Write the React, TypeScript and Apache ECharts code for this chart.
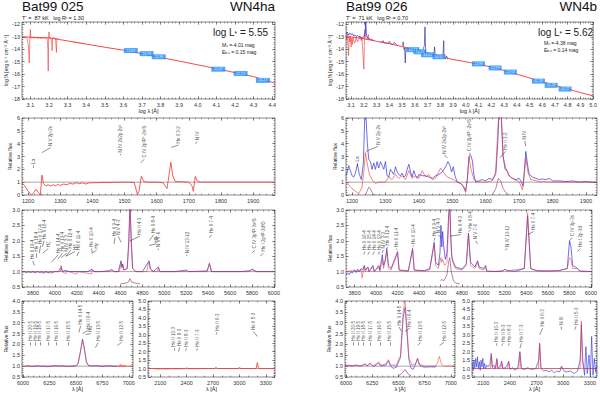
import React, { useEffect, useRef } from "react";
import * as echarts from "echarts";

// ---------------- tick labels ----------------
const TL_X = [3.1, 3.2, 3.3, 3.4, 3.5, 3.6, 3.7, 3.8, 3.9, 4.0, 4.1, 4.2, 4.3, 4.4];
const TR_X = [3.1, 3.2, 3.3, 3.4, 3.5, 3.6, 3.7, 3.8, 3.9, 4.0, 4.1, 4.2, 4.3, 4.4, 4.5, 4.6, 4.7, 4.8, 4.9, 5.0];
const TOP_Y = [-18, -17, -16, -15, -14, -13, -12];
const UV_X = [1200, 1300, 1400, 1500, 1600, 1700, 1800, 1900];
const UV_Y = [0, 1, 2, 3, 4, 5, 6];
const OPT_X = [3800, 4000, 4200, 4400, 4600, 4800, 5000, 5200, 5400, 5600, 5800, 6000];
const OPT_Y = [0.5, 1.0, 1.5, 2.0, 2.5, 3.0];
const HA_X = [6000, 6250, 6500, 6750, 7000];
const HA_Y = [0.5, 1.0, 1.5, 2.0, 2.5, 3.0, 3.5, 4.0];
const IR_X = [2100, 2400, 2700, 3000, 3300];
const IR_Y = [0.5, 1.0, 1.5, 2.0, 2.5, 3.0, 3.5, 4.0, 4.5, 5.0];

// ---------------- top-left: Bat99 025 SED ----------------
const tlModel = [[3.055, -13.0], [3.1, -13.02], [3.15, -13.05], [3.2, -13.08], [3.25, -13.2], [3.3, -13.32], [3.35, -13.45], [3.4, -13.58], [3.5, -13.83], [3.6, -14.07], [3.7, -14.35], [3.8, -14.65], [3.9, -14.95], [4.0, -15.25], [4.1, -15.55], [4.2, -15.88], [4.3, -16.2], [4.415, -16.72]];
const tlObs = [[3.055, -13.0], [3.06, -12.95], [3.065, -13.05], [3.07, -12.98], [3.075, -13.1], [3.08, -13.02], [3.085, -13.3], [3.09, -13.8], [3.094, -15.1], [3.097, -13.2], [3.1, -12.4], [3.103, -13.1], [3.11, -13.05], [3.12, -13.1], [3.13, -13.05], [3.14, -13.1], [3.15, -13.08], [3.16, -13.12], [3.17, -13.06], [3.18, -13.1], [3.19, -13.15], [3.194, -14.0], [3.196, -15.75], [3.198, -13.3], [3.2, -12.6], [3.203, -13.1], [3.21, -13.08], [3.215, -13.4], [3.217, -14.1], [3.219, -13.1], [3.225, -13.05], [3.235, -13.1], [3.24, -14.25], [3.243, -13.1], [3.25, -13.12]];
const tlOptObs = [[3.33, -13.4], [3.35, -13.45], [3.37, -13.5], [3.39, -13.55]];
const tlBoxes = [[3.64, -14.1, "14.62"], [3.725, -14.35, "14.75"], [3.79, -14.6, "14.84"], [4.11, -15.6, "15.01"], [4.23, -15.95, "15.13"], [4.35, -16.5, "15.24"]];

// ---------------- top-right: Bat99 026 SED ----------------
const trModel = [[3.06, -12.95], [3.1, -13.0], [3.2, -13.15], [3.3, -13.35], [3.4, -13.55], [3.5, -13.78], [3.6, -14.03], [3.7, -14.3], [3.8, -14.57], [3.9, -14.82], [4.0, -15.0], [4.1, -15.2], [4.2, -15.43], [4.3, -15.7], [4.4, -16.0], [4.5, -16.3], [4.6, -16.6], [4.7, -16.9], [4.8, -17.2], [4.9, -17.48], [5.0, -17.75]];
const trRedObs = [[3.06, -12.9], [3.065, -13.3], [3.07, -12.8], [3.075, -13.6], [3.08, -14.5], [3.085, -13.0], [3.09, -13.4], [3.095, -13.0], [3.1, -13.8], [3.105, -13.1], [3.11, -13.6], [3.115, -13.0], [3.12, -13.3], [3.13, -13.5], [3.14, -13.0], [3.15, -13.4], [3.16, -13.2], [3.17, -13.0], [3.18, -13.3], [3.185, -13.0], [3.2, -15.6], [3.205, -13.0], [3.21, -12.4], [3.215, -13.1], [3.22, -13.2], [3.23, -13.1], [3.235, -12.8], [3.24, -13.2], [3.25, -13.2]];
const trBlueUV = [[3.06, -12.75], [3.07, -12.6], [3.08, -12.85], [3.09, -12.7], [3.1, -12.8], [3.11, -12.75], [3.12, -12.9], [3.13, -12.85], [3.14, -12.95], [3.15, -12.9], [3.16, -13.0], [3.17, -12.95], [3.18, -13.05], [3.19, -13.1], [3.2, -13.0], [3.21, -12.6], [3.215, -11.8], [3.22, -12.9], [3.23, -13.1], [3.24, -13.15], [3.25, -13.2], [3.26, -13.2], [3.27, -13.25], [3.28, -13.3]];
const trBlueMid = [[3.33, -13.4], [3.345, -13.45], [3.35, -13.3], [3.36, -13.5], [3.375, -13.45], [3.39, -13.55], [3.4, -13.35], [3.41, -13.55], [3.43, -13.6], [3.44, -13.45], [3.46, -13.65]];
const trBlueOpt = [[3.5, -13.7], [3.51, -13.4], [3.515, -14.0], [3.52, -13.9], [3.525, -15.1], [3.53, -13.9], [3.54, -14.0], [3.55, -13.95], [3.56, -13.9], [3.57, -14.05], [3.58, -14.0], [3.59, -14.1], [3.6, -14.0], [3.61, -14.1], [3.62, -14.05], [3.63, -14.15], [3.64, -14.1], [3.65, -14.2], [3.66, -14.15], [3.675, -13.7], [3.68, -12.2], [3.685, -14.2], [3.69, -14.3], [3.7, -14.35], [3.71, -14.3], [3.72, -14.4], [3.73, -14.35], [3.74, -14.45], [3.75, -14.4], [3.755, -13.8], [3.76, -14.5], [3.77, -14.45], [3.78, -14.55], [3.79, -14.5], [3.8, -14.6], [3.81, -14.45], [3.82, -14.7], [3.827, -13.3], [3.83, -14.6], [3.84, -14.75], [3.85, -14.55], [3.86, -14.8]];
const trBoxes = [[3.585, -14.03, "14.27"], [3.64, -14.2, "14.41"], [3.7, -14.44, "14.52"], [3.79, -14.6, "14.60"], [4.1, -15.17, "14.85"], [4.23, -15.5, "14.93"], [4.35, -15.83, "15.02"], [4.57, -16.56, "15.30"], [4.67, -16.9, "15.38"], [4.78, -17.2, "15.47"]];

// ---------------- UV ----------------
const uvLFlux = [[1181, 0.95], [1190, 0.7], [1200, 0.3], [1210, 0.0], [1218, 0.2], [1225, 0.45], [1232, 0.2], [1238, 0.0], [1243, 1.55], [1248, 0.9], [1255, 0.7], [1262, 0.8], [1270, 0.7], [1278, 0.8], [1285, 0.72], [1292, 0.82], [1300, 0.75], [1310, 0.85], [1320, 0.8], [1330, 0.9], [1340, 0.85], [1350, 0.95], [1360, 0.88], [1370, 0.95], [1380, 0.85], [1390, 0.95], [1400, 0.95], [1420, 0.97], [1450, 0.98], [1500, 1.0], [1530, 0.98], [1540, 0.05], [1545, 0.3], [1552, 1.45], [1560, 1.05], [1570, 1.0], [1600, 1.0], [1620, 0.95], [1632, 0.5], [1638, 1.5], [1644, 2.55], [1650, 1.5], [1658, 1.05], [1700, 1.0], [1710, 0.7], [1714, 0.3], [1720, 1.45], [1726, 1.1], [1735, 1.0], [1800, 1.0], [1968, 1.0]];
const uvRModel = [[1182, 1.0], [1190, 0.8], [1200, 0.5], [1210, 0.3], [1220, 0.1], [1230, 0.6], [1236, 2.0], [1240, 3.3], [1245, 2.5], [1252, 1.6], [1260, 1.2], [1270, 0.9], [1280, 1.0], [1290, 1.0], [1300, 1.0], [1310, 1.4], [1320, 1.2], [1330, 1.6], [1340, 1.3], [1350, 1.5], [1360, 1.2], [1370, 1.9], [1380, 1.3], [1390, 1.5], [1400, 1.3], [1410, 1.9], [1420, 1.4], [1430, 1.6], [1440, 1.2], [1450, 1.3], [1465, 2.1], [1475, 1.7], [1485, 1.4], [1495, 1.3], [1510, 1.1], [1530, 0.8], [1540, 0.2], [1546, 1.5], [1550, 3.0], [1556, 2.0], [1565, 1.2], [1580, 1.0], [1600, 1.0], [1620, 1.1], [1630, 1.8], [1636, 5.0], [1640, 6.5], [1646, 6.5], [1652, 3.0], [1660, 2.1], [1670, 1.5], [1685, 1.2], [1700, 1.05], [1710, 0.4], [1715, 1.5], [1720, 2.9], [1726, 1.8], [1735, 1.2], [1760, 1.05], [1800, 1.0], [1933, 1.0]];
const uvRObs = [[1182, 1.5], [1186, 1.8], [1190, 2.3], [1195, 1.9], [1200, 1.5], [1205, 1.4], [1210, 1.7], [1216, 2.4], [1222, 1.6], [1228, 1.2], [1234, 2.5], [1238, 6.0], [1242, 6.0], [1246, 4.0], [1250, 2.8], [1255, 2.6], [1260, 2.0], [1265, 2.5], [1270, 2.0], [1275, 2.6], [1280, 2.1], [1285, 2.6], [1290, 2.3], [1295, 2.0], [1300, 2.6], [1305, 1.5], [1310, 1.4], [1315, 2.0], [1320, 1.8], [1325, 1.6], [1330, 2.2], [1335, 1.8], [1340, 1.6], [1345, 1.5], [1350, 1.7], [1355, 1.4], [1360, 1.5], [1365, 2.0], [1370, 2.4], [1375, 1.8], [1380, 1.4], [1385, 1.9], [1390, 1.5], [1395, 1.3], [1400, 1.6], [1410, 1.5], [1420, 1.5], [1430, 1.4], [1440, 1.3], [1450, 1.5], [1460, 1.6], [1470, 1.8], [1480, 2.2], [1487, 2.6], [1493, 2.3], [1498, 1.8], [1503, 2.2], [1508, 1.5], [1515, 1.0], [1525, 0.9], [1535, 0.6], [1540, 0.3], [1545, 1.2], [1550, 3.0], [1555, 3.1], [1560, 2.7], [1565, 1.5], [1570, 1.0], [1580, 1.1], [1590, 1.2], [1600, 1.1], [1610, 1.3], [1620, 1.2], [1630, 1.6], [1636, 4.0], [1640, 6.5], [1646, 6.5], [1652, 3.0], [1658, 2.0], [1664, 1.9], [1670, 1.5], [1680, 1.3], [1690, 1.2], [1700, 1.3], [1707, 1.0], [1712, 0.7], [1716, 2.0], [1720, 3.4], [1725, 2.4], [1730, 1.6], [1740, 1.4], [1750, 1.3], [1760, 1.2], [1770, 1.25], [1780, 1.2], [1790, 1.3], [1800, 1.1], [1820, 1.1], [1840, 1.05], [1860, 1.1], [1880, 1.0], [1900, 1.05], [1920, 1.0], [1933, 1.0]];
const uvRSubNV = [[1240, 0.0], [1245, 0.3], [1250, 0.6], [1255, 0.5], [1260, 0.2], [1265, 0.05], [1270, 0.0]];
const uvRSubHe = [[1620, 0.0], [1630, 0.5], [1638, 1.3], [1645, 1.1], [1652, 0.5], [1660, 0.2], [1670, 0.0]];

// ---------------- optical ----------------
const optLModel = [[3700, 1.0], [3800, 0.98], [3850, 1.0], [3890, 0.95], [3900, 1.0], [3970, 0.95], [3980, 1.0], [4050, 1.0], [4058, 1.2], [4066, 1.0], [4100, 0.93], [4110, 1.02], [4200, 0.92], [4210, 1.0], [4335, 0.92], [4340, 1.05], [4350, 1.0], [4500, 1.0], [4520, 1.05], [4540, 1.0], [4590, 1.0], [4604, 1.3], [4612, 1.1], [4620, 1.2], [4630, 1.05], [4660, 1.1], [4675, 1.8], [4686, 3.2], [4698, 1.8], [4710, 1.1], [4740, 1.0], [4840, 1.0], [4852, 1.25], [4860, 1.3], [4870, 1.1], [4890, 1.0], [4935, 1.0], [4945, 1.12], [4955, 1.0], [5190, 1.0], [5200, 1.04], [5210, 1.0], [5390, 1.0], [5411, 1.25], [5430, 1.0], [5780, 1.0], [5801, 1.07], [5830, 1.0], [6010, 1.0]];
const optLObs = [[3700, 0.98], [3720, 1.0], [3740, 0.97], [3760, 1.0], [3780, 0.97], [3800, 1.01], [3820, 0.96], [3840, 1.0], [3860, 0.97], [3880, 1.0], [3900, 0.95], [3920, 1.0], [3940, 0.96], [3960, 1.0], [3980, 0.97], [4000, 1.0], [4030, 1.0], [4058, 1.15], [4070, 1.0], [4100, 1.04], [4120, 1.0], [4160, 1.0], [4200, 1.0], [4250, 1.0], [4300, 1.0], [4340, 1.08], [4360, 1.0], [4420, 1.0], [4500, 1.03], [4520, 1.07], [4540, 1.0], [4580, 1.0], [4604, 1.35], [4612, 1.15], [4620, 1.25], [4630, 1.05], [4660, 1.1], [4675, 2.0], [4686, 3.2], [4698, 2.0], [4710, 1.1], [4740, 1.0], [4800, 1.0], [4852, 1.3], [4860, 1.35], [4872, 1.1], [4900, 1.0], [4945, 1.15], [4960, 1.0], [5100, 1.0], [5200, 1.05], [5220, 1.0], [5300, 1.01], [5390, 1.02], [5411, 1.27], [5430, 1.0], [5600, 1.0], [5700, 1.0], [5780, 1.03], [5801, 1.08], [5840, 1.0], [5950, 1.0], [6010, 1.0]];
const optLSub = [[4600, 0.6], [4640, 0.62], [4670, 0.65], [4686, 0.77], [4700, 0.66], [4740, 0.62], [4780, 0.6]];
const optRModel = [[3720, 1.0], [3800, 1.05], [3830, 1.0], [3860, 1.05], [3870, 0.8], [3880, 1.0], [3890, 1.15], [3900, 1.0], [3923, 1.15], [3935, 1.0], [3970, 1.15], [3980, 1.0], [4026, 1.15], [4035, 1.0], [4058, 1.4], [4070, 1.1], [4100, 1.65], [4115, 1.1], [4140, 1.05], [4200, 1.6], [4215, 1.05], [4300, 1.02], [4340, 1.7], [4355, 1.05], [4450, 1.02], [4500, 1.05], [4541, 1.9], [4555, 1.2], [4580, 1.1], [4604, 1.45], [4612, 1.3], [4620, 1.4], [4640, 1.2], [4660, 1.3], [4675, 2.5], [4686, 3.3], [4695, 2.0], [4705, 1.45], [4715, 1.3], [4740, 1.1], [4800, 1.05], [4840, 1.2], [4860, 2.2], [4880, 1.2], [4920, 1.1], [4945, 1.3], [4960, 1.1], [5000, 1.05], [5020, 1.15], [5030, 1.0], [5180, 1.02], [5200, 1.08], [5220, 1.02], [5380, 1.1], [5411, 2.9], [5440, 1.1], [5500, 1.02], [5600, 1.02], [5700, 1.03], [5780, 1.1], [5801, 1.45], [5815, 1.4], [5830, 1.1], [5870, 1.1], [5900, 1.0], [6010, 1.0]];
const optRObs = [[3720, 0.92], [3735, 0.96], [3750, 0.9], [3765, 1.0], [3780, 0.95], [3800, 1.05], [3815, 0.97], [3830, 1.08], [3845, 1.0], [3860, 1.1], [3875, 1.05], [3890, 1.2], [3900, 1.05], [3923, 1.15], [3935, 1.0], [3970, 1.2], [3985, 1.0], [4026, 1.2], [4035, 1.05], [4058, 1.55], [4070, 1.2], [4085, 1.35], [4100, 1.75], [4115, 1.2], [4140, 1.1], [4200, 1.65], [4215, 1.05], [4300, 1.02], [4340, 1.75], [4355, 1.05], [4450, 1.03], [4500, 1.1], [4541, 1.95], [4555, 1.3], [4580, 1.2], [4595, 1.6], [4604, 2.5], [4612, 1.8], [4620, 2.3], [4630, 1.8], [4645, 1.4], [4660, 1.6], [4675, 2.8], [4686, 3.3], [4695, 2.2], [4705, 1.5], [4720, 1.3], [4740, 1.15], [4800, 1.08], [4840, 1.25], [4860, 2.25], [4880, 1.3], [4920, 1.15], [4945, 1.35], [4960, 1.15], [5000, 1.1], [5020, 1.2], [5030, 1.02], [5100, 1.0], [5180, 1.02], [5200, 1.08], [5220, 1.03], [5300, 1.01], [5380, 1.1], [5411, 2.8], [5440, 1.1], [5500, 1.03], [5600, 1.02], [5700, 1.03], [5780, 1.1], [5801, 2.0], [5815, 1.8], [5830, 1.2], [5870, 1.12], [5900, 1.02], [6010, 1.0]];
const optRSub = [[4600, 0.7], [4610, 0.75], [4630, 0.7], [4660, 0.9], [4675, 1.3], [4686, 1.45], [4700, 1.0], [4720, 0.7], [4740, 0.63], [4780, 0.6]];

// ---------------- H-alpha region ----------------
const haLObs = [[6020, 1.0], [6050, 1.02], [6080, 0.98], [6110, 1.0], [6140, 1.02], [6170, 0.99], [6200, 1.0], [6230, 0.97], [6260, 1.0], [6300, 1.03], [6340, 1.0], [6380, 1.02], [6420, 0.98], [6460, 1.0], [6500, 1.02], [6520, 1.1], [6540, 1.6], [6563, 2.25], [6580, 1.8], [6600, 1.2], [6620, 1.02], [6660, 1.0], [6700, 1.03], [6740, 0.98], [6780, 1.0], [6820, 1.02], [6860, 0.99], [6890, 1.0]];
const haLModel = [[5990, 1.0], [6500, 1.0], [6520, 1.1], [6540, 1.6], [6563, 2.2], [6580, 1.8], [6600, 1.15], [6620, 1.02], [6900, 1.0], [7040, 1.0]];
const haLRed = [[6900, 1.02], [6910, 0.97], [6920, 1.08], [6930, 0.98], [6940, 1.06], [6950, 0.96], [6960, 1.04], [6975, 1.0]];
const haRModel = [[5990, 1.0], [6070, 1.0], [6100, 1.05], [6130, 1.0], [6160, 1.05], [6180, 1.1], [6200, 1.03], [6230, 1.15], [6250, 1.03], [6290, 1.1], [6310, 1.2], [6330, 1.05], [6380, 1.1], [6405, 1.3], [6425, 1.05], [6480, 1.05], [6520, 1.5], [6545, 3.5], [6563, 4.1], [6578, 3.0], [6600, 1.4], [6630, 1.05], [6660, 1.1], [6683, 1.35], [6700, 1.1], [6750, 1.0], [6850, 1.0], [6870, 1.1], [6890, 1.45], [6910, 1.1], [6930, 1.0], [7040, 1.0]];
const haRObs = [[5990, 1.02], [6030, 1.04], [6060, 1.02], [6100, 1.05], [6130, 1.0], [6160, 1.04], [6180, 1.1], [6200, 1.0], [6230, 1.12], [6260, 0.98], [6290, 1.05], [6310, 1.15], [6330, 1.0], [6380, 1.05], [6405, 1.25], [6425, 1.0], [6450, 0.9], [6480, 0.95], [6520, 1.4], [6545, 3.2], [6563, 3.7], [6578, 2.8], [6600, 1.3], [6620, 0.9], [6640, 0.85], [6660, 1.05], [6683, 1.35], [6700, 1.05], [6730, 0.97], [6760, 0.95], [6800, 0.97], [6840, 0.96], [6860, 0.98]];
const haRSub = [[6500, 0.55], [6530, 0.65], [6563, 0.85], [6590, 0.65], [6620, 0.55]];

// ---------------- near-UV 2000-3400 ----------------
const nuvLModel = [[1960, 1.0], [2380, 1.0], [2400, 1.03], [2420, 1.0], [2715, 1.0], [2734, 1.06], [2750, 1.0], [2980, 1.0], [3000, 1.05], [3020, 1.0], [3190, 1.0], [3204, 1.35], [3218, 1.0], [3405, 1.0]];
const nuvLObs = [[2040, 0.97], [2080, 0.96], [2120, 0.98], [2160, 0.96], [2200, 0.97], [2240, 0.99], [2280, 0.97], [2320, 0.98], [2360, 0.99], [2400, 1.0], [2450, 0.98], [2500, 1.0], [2550, 0.99]];
const nuvRModel = [[1973, 1.0], [2180, 1.0], [2193, 1.75], [2205, 1.0], [2240, 1.0], [2253, 1.5], [2265, 1.0], [2295, 1.0], [2307, 1.3], [2320, 1.0], [2374, 1.0], [2386, 1.45], [2398, 1.0], [2500, 1.0], [2512, 1.9], [2525, 1.0], [2720, 1.0], [2734, 2.45], [2748, 1.0], [2968, 1.0], [2980, 1.15], [2992, 1.0], [3190, 1.0], [3198, 2.5], [3204, 3.8], [3214, 1.5], [3230, 1.0], [3380, 1.0]];
const nuvRObs = [[1975, 1.3], [1985, 0.9], [1995, 1.5], [2005, 1.0], [2015, 1.6], [2025, 1.1], [2035, 1.7], [2045, 1.0], [2055, 1.4], [2065, 0.9], [2075, 1.5], [2085, 1.1], [2095, 1.6], [2105, 1.0], [2115, 1.3], [2125, 1.0], [2140, 1.2], [2155, 1.1], [2175, 1.3], [2190, 1.9], [2200, 1.1], [2220, 1.2], [2235, 1.0], [2253, 1.6], [2265, 1.0], [2290, 1.15], [2307, 1.45], [2320, 1.0], [2360, 1.1], [2386, 1.4], [2400, 0.95], [2430, 1.05], [2460, 0.9], [2490, 1.1], [2512, 2.0], [2530, 1.0], [2560, 0.95], [2600, 1.05], [2640, 0.95], [2690, 1.0], [2725, 1.5], [2734, 2.5], [2750, 1.0], [2780, 0.85], [2810, 0.9], [2840, 0.8], [2870, 0.9], [2900, 0.75], [2930, 0.85], [2960, 0.8], [2980, 1.1], [3010, 0.85], [3040, 0.8], [3080, 0.85], [3120, 0.7], [3160, 0.85], [3190, 1.5], [3204, 3.6], [3220, 1.5], [3240, 0.6], [3255, 2.3], [3270, 0.7], [3290, 1.8], [3305, 0.6], [3320, 2.9], [3335, 0.6], [3350, 1.6], [3365, 0.8], [3380, 1.2]];

// ---------------- line identifications: [text, lineX, lineY, textX, textY] ----------------
const uvLLab = [["Lα", 1216, 2.1, 1216, 2.3], ["N V 2p-2s", 1243, 3.3, 1270, 3.7], ["N IV 2s2p-2s²", 1486, 3.1, 1486, 3.2], ["C IV 2p²P°-2s²S", 1550, 2.5, 1562, 2.8], ["He II 3-2", 1645, 3.7, 1668, 3.9], ["N IV", 1720, 4.0, 1727, 4.15]];
const uvRLab = [["Lα", 1216, 2.3, 1216, 2.5], ["N V 2p-2s", 1242, 3.4, 1278, 3.8], ["N IV 2s2p-2s²", 1486, 2.9, 1476, 3.1], ["C IV 2p²P°-2s²S", 1552, 3.1, 1553, 3.3], ["He II 3-2", 1642, 2.9, 1660, 3.4], ["N IV", 1720, 3.8, 1717, 4.2]];
const optLLab = [["He II 19-4", 3813, 1.2, 3798, 1.35], ["He II 18-4", 3833, 1.45, 3834, 1.6], ["He II 17-4", 3858, 1.6, 3870, 1.85], ["He II 16-4", 3887, 1.8, 3901, 2.0], ["Hζ", 3889, 1.6, 3940, 1.75], ["He II 14-4", 3968, 1.3, 4031, 1.55], ["He II 13-4", 4026, 1.4, 4071, 1.6], ["N IV 3-3", 4058, 1.45, 4108, 1.6], ["He II 12-4", 4100, 1.5, 4147, 1.7], ["Hδ", 4101, 1.5, 4184, 1.65], ["He II 11-4", 4200, 1.5, 4220, 1.65], ["He II 10-4", 4340, 1.6, 4336, 1.75], ["Hγ", 4340, 1.6, 4382, 1.7], ["He II 9-4", 4541, 1.9, 4549, 2.1], ["N V 4-3", 4604, 1.95, 4579, 2.15], ["He II 4-3", 4686, 2.0, 4777, 2.15], ["He II 8-4", 4860, 2.0, 4904, 2.2], ["Hβ", 4861, 1.85, 4925, 1.9], ["N V 7-6", 4945, 1.7, 4944, 1.75], ["N IV 13-12", 5200, 1.5, 5208, 1.55], ["He II 7-4", 5411, 2.1, 5431, 2.2], ["C IV 3p²P-3s²S", 5801, 1.6, 5826, 1.7], ["He I 2p³P-3d³D", 5876, 1.5, 5902, 1.6]];
const optRLab = [["He II 16-4", 3887, 1.55, 3893, 1.65], ["He II 15-4", 3923, 1.55, 3939, 1.65], ["He II 14-4", 3968, 1.55, 3985, 1.65], ["He II 13-4", 4026, 1.55, 4030, 1.65], ["N IV 3-3", 4058, 1.6, 4067, 1.7], ["He II 12-4", 4100, 1.75, 4106, 1.8], ["He II 11-4", 4200, 1.7, 4188, 1.75], ["He II 10-4", 4340, 1.8, 4350, 1.85], ["He II 9-4", 4541, 2.0, 4547, 2.1], ["N V 4-3", 4604, 2.1, 4578, 2.2], ["He II 4-3", 4686, 2.15, 4790, 2.2], ["He II 8-4", 4860, 2.3, 4882, 2.35], ["N V 7-6", 4945, 1.9, 4927, 2.0], ["N IV 13-12", 5200, 1.7, 5222, 1.75], ["He II 7-4", 5411, 2.2, 5466, 2.3], ["C IV 3p-3s", 5801, 2.0, 5825, 2.1], ["He I 2p-3d", 5876, 1.65, 5901, 1.75]];
const haLLab = [["He II 20-5", 6066, 1.95, 6066, 2.1], ["He II 19-5", 6113, 1.95, 6113, 2.1], ["He II 18-5", 6160, 1.95, 6160, 2.1], ["He II 17-5", 6239, 1.95, 6239, 2.1], ["He II 16-5", 6318, 1.95, 6318, 2.1], ["He II 15-5", 6428, 1.95, 6428, 2.1], ["He II 14-5", 6527, 2.55, 6545, 2.85], ["He II 6-4", 6563, 2.5, 6617, 2.65], ["Hα", 6590, 2.45, 6640, 2.5], ["He II 13-5", 6685, 1.85, 6712, 2.1], ["He II 12-5", 6893, 1.95, 6933, 2.1]];
const haRLab = [["He II 20-5", 6069, 1.95, 6069, 2.1], ["He II 19-5", 6117, 1.95, 6117, 2.1], ["He II 18-5", 6165, 1.95, 6165, 2.1], ["He II 17-5", 6235, 1.95, 6235, 2.1], ["He II 16-5", 6324, 1.95, 6324, 2.1], ["He II 15-5", 6419, 1.95, 6419, 2.1], ["He II 14-5", 6527, 2.6, 6508, 2.8], ["He II 6-4", 6563, 2.6, 6610, 2.75], ["He II 13-5", 6685, 1.95, 6712, 2.1], ["He II 12-5", 6893, 1.95, 6935, 2.1]];
const nuvLLab = [["He II 10-3", 2253, 2.05, 2253, 2.2], ["He II 9-3", 2307, 2.0, 2321, 2.25], ["He II 8-3", 2386, 2.05, 2397, 2.2], ["He II 7-3", 2512, 2.05, 2523, 2.2], ["He II 6-3", 2734, 3.0, 2746, 3.15], ["He II 5-3", 3204, 2.9, 3156, 3.2]];
const nuvRLab = [["He II 10-3", 2253, 2.35, 2249, 2.5], ["He II 9-3", 2307, 2.35, 2323, 2.5], ["He II 8-3", 2386, 2.35, 2390, 2.5], ["He II 7-3", 2512, 2.2, 2530, 2.5], ["He II 6-3", 2734, 3.0, 2770, 3.4], ["N III", 2980, 3.3, 2976, 3.5], ["He II 5-3", 3130, 3.3, 3144, 3.5]];

// ---------------- styling ----------------
const FONT = "'Liberation Sans', Arial, Helvetica, sans-serif";
const INK = "#222";
const RED = "#f03434";
const BLUE = "#2b2bdc";
const DARKBLUE = "#1c1c8c";
const SUB = "#8e2c62";
const BOX = "#1f8fff";
const ORANGE = "#f0a040";

function ticks(a: number, b: number, step: number): number[] {
  const out: number[] = [];
  const n = Math.round((b - a) / step);
  for (let i = 0; i <= n; i++) out.push(+(a + i * step).toFixed(6));
  return out;
}

const f1 = (v: number) => v.toFixed(1);
const f0 = (v: number) => String(Math.round(v));

type Panel = {
  rect: number[]; x: number[]; y: number[];
  xMajor: number[]; xMinor: number[]; yMajor: number[]; yMinor: number[];
  xFmt: (v: number) => string; yFmt: (v: number) => string;
  xName?: string; xNameGap?: number; yName?: string; yNameGap?: number;
};

const FLUX = "log f\u03bb [erg s\u207b\u00b9 cm\u207b\u00b2 \u00c5\u207b\u00b9]";

const PANELS: Panel[] = [
  { rect: [22, 22, 253, 77], x: [3.055, 4.415], y: [-18, -11.8], xMajor: TL_X, xMinor: ticks(3.06, 4.4, 0.02), yMajor: TOP_Y, yMinor: ticks(-18, -11.8, 0.2), xFmt: f1, yFmt: f0, xName: "log \u03bb [\u00c5]", xNameGap: 9, yName: FLUX, yNameGap: 13 },
  { rect: [22, 118, 253, 77], x: [1181, 1968], y: [0, 6], xMajor: UV_X, xMinor: ticks(1200, 1960, 20), yMajor: UV_Y, yMinor: ticks(0, 6, 0.2), xFmt: f0, yFmt: f0, yName: "Relative flux", yNameGap: 10 },
  { rect: [22, 210, 253, 77], x: [3700, 6010], y: [0.5, 3.0], xMajor: OPT_X, xMinor: ticks(3700, 6000, 50), yMajor: OPT_Y, yMinor: ticks(0.5, 3.0, 0.1), xFmt: f0, yFmt: f1, yName: "Relative flux", yNameGap: 11 },
  { rect: [22, 301, 111, 76], x: [5990, 7040], y: [0.5, 4.0], xMajor: HA_X, xMinor: ticks(6000, 7000, 50), yMajor: HA_Y, yMinor: ticks(0.5, 4.0, 0.1), xFmt: f0, yFmt: f1, xName: "\u03bb [\u00c5]", xNameGap: 8, yName: "Relative flux", yNameGap: 11 },
  { rect: [148, 301, 127, 76], x: [1960, 3405], y: [0.5, 5.0], xMajor: IR_X, xMinor: ticks(2000, 3400, 100), yMajor: IR_Y, yMinor: ticks(0.5, 5.0, 0.1), xFmt: f0, yFmt: f1, xName: "\u03bb [\u00c5]", xNameGap: 8 },
  { rect: [346, 22, 251, 77], x: [3.06, 5.0], y: [-18, -11.8], xMajor: TR_X, xMinor: ticks(3.06, 5.0, 0.02), yMajor: TOP_Y, yMinor: ticks(-18, -11.8, 0.2), xFmt: f1, yFmt: f0, xName: "log \u03bb [\u00c5]", xNameGap: 9, yName: FLUX, yNameGap: 13 },
  { rect: [346, 118, 251, 77], x: [1182, 1933], y: [0, 6], xMajor: UV_X, xMinor: ticks(1200, 1920, 20), yMajor: UV_Y, yMinor: ticks(0, 6, 0.2), xFmt: f0, yFmt: f0, yName: "Relative flux", yNameGap: 8 },
  { rect: [346, 210, 251, 77], x: [3720, 6010], y: [0.5, 3.0], xMajor: OPT_X, xMinor: ticks(3750, 6000, 50), yMajor: OPT_Y, yMinor: ticks(0.5, 3.0, 0.1), xFmt: f0, yFmt: f1, yName: "Relative flux", yNameGap: 11 },
  { rect: [345, 301, 110, 76], x: [5990, 7040], y: [0.5, 4.0], xMajor: HA_X, xMinor: ticks(6000, 7000, 50), yMajor: HA_Y, yMinor: ticks(0.5, 4.0, 0.1), xFmt: f0, yFmt: f1, xName: "\u03bb [\u00c5]", xNameGap: 8, yName: "Relative flux", yNameGap: 11 },
  { rect: [472, 301, 125, 76], x: [1973, 3380], y: [0.5, 5.0], xMajor: IR_X, xMinor: ticks(2000, 3300, 100), yMajor: IR_Y, yMinor: ticks(0.5, 5.0, 0.1), xFmt: f0, yFmt: f1, xName: "\u03bb [\u00c5]", xNameGap: 8 },
];

function line(gi: number, data: any[], color: string, width = 0.8, opacity = 1, z = 2) {
  return { type: "line", xAxisIndex: 4 * gi, yAxisIndex: 4 * gi, data, symbol: "none", showSymbol: false, lineStyle: { color, width, opacity }, clip: true, silent: true, z };
}

function baseline(gi: number) {
  const p = PANELS[gi];
  return line(gi, [[p.x[0], 1], [p.x[1], 1]], "#6a6a6a", 0.6, 1, 1);
}

function labels(gi: number, labs: any[], fontSize = 4.5) {
  return [
    { type: "lines", coordinateSystem: "cartesian2d", xAxisIndex: 4 * gi, yAxisIndex: 4 * gi, silent: true, z: 5,
      data: labs.map((l) => ({ coords: [[l[1], l[2]], [l[3], l[4]]] })),
      lineStyle: { color: INK, width: 0.5, opacity: 1, curveness: 0 } },
    { type: "scatter", xAxisIndex: 4 * gi, yAxisIndex: 4 * gi, silent: true, z: 5, symbolSize: 1,
      itemStyle: { color: "rgba(0,0,0,0)" },
      data: labs.map((l) => [l[3], l[4], l[0]]),
      label: { show: true, position: "top", distance: 1, rotate: 90, align: "left", verticalAlign: "middle", fontSize, color: INK, fontFamily: FONT, formatter: (p: any) => p.value[2] } },
  ];
}

function boxes(gi: number, data: any[], w: number) {
  return { type: "scatter", xAxisIndex: 4 * gi, yAxisIndex: 4 * gi, silent: true, z: 4, symbol: "rect", symbolSize: [w, 5],
    itemStyle: { color: BOX }, data,
    label: { show: true, position: "inside", fontSize: 3.4, color: "#fff", fontFamily: FONT, formatter: (p: any) => p.value[2] } };
}

function buildOption() {
  const grid: any[] = [], xAxis: any[] = [], yAxis: any[] = [];
  PANELS.forEach((p, gi) => {
    grid.push({ left: p.rect[0], top: p.rect[1], width: p.rect[2], height: p.rect[3], show: true, borderColor: "#3a3a3a", borderWidth: 0.6, backgroundColor: "rgba(0,0,0,0)", containLabel: false });
    const ax = (dim: "x" | "y", pos: string, major: boolean, lab: boolean) => {
      const vals = dim === "x" ? (major ? p.xMajor : p.xMinor) : (major ? p.yMajor : p.yMinor);
      const rng = dim === "x" ? p.x : p.y;
      const o: any = {
        type: "value", gridIndex: gi, position: pos, min: rng[0], max: rng[1],
        splitLine: { show: false }, axisLine: { show: false, onZero: false },
        axisTick: { show: true, inside: true, length: major ? 2.8 : 1.4, customValues: vals, lineStyle: { color: "#333", width: 0.5 } },
        axisLabel: lab ? { show: true, customValues: vals, formatter: dim === "x" ? p.xFmt : p.yFmt, fontSize: 5.5, color: "#333", fontFamily: FONT, margin: dim === "x" ? 2.5 : 2 } : { show: false },
      };
      if (lab && dim === "x" && p.xName) Object.assign(o, { name: p.xName, nameLocation: "middle", nameGap: p.xNameGap, nameTextStyle: { fontSize: 5.5, color: INK, fontFamily: FONT } });
      if (lab && dim === "y" && p.yName) Object.assign(o, { name: p.yName, nameLocation: "middle", nameGap: p.yNameGap, nameRotate: 90, nameTextStyle: { fontSize: 5, color: INK, fontFamily: FONT } });
      return o;
    };
    xAxis.push(ax("x", "bottom", true, true), ax("x", "bottom", false, false), ax("x", "top", true, false), ax("x", "top", false, false));
    yAxis.push(ax("y", "left", true, true), ax("y", "left", false, false), ax("y", "right", true, false), ax("y", "right", false, false));
  });

  const series: any[] = [
    // top left
    line(0, tlObs, RED, 0.6), line(0, tlOptObs, ORANGE, 0.8), line(0, tlModel, RED, 0.9, 1, 3), boxes(0, tlBoxes, 14),
    // UV left
    baseline(1), line(1, uvLFlux, RED, 0.8), ...labels(1, uvLLab),
    // optical left
    baseline(2), line(2, optLObs, BLUE, 0.8, 0.85), line(2, optLModel, RED, 0.8, 0.65, 3), line(2, optLSub, SUB, 0.6), ...labels(2, optLLab),
    // H alpha left
    baseline(3), line(3, haLObs, BLUE, 0.7, 0.85), line(3, haLModel, RED, 0.8, 0.65, 3), line(3, haLRed, RED, 0.6), ...labels(3, haLLab),
    // near-UV left
    baseline(4), line(4, nuvLObs, "#f08a8a", 0.6), line(4, nuvLModel, RED, 0.8, 1, 3), ...labels(4, nuvLLab),
    // top right
    line(5, trRedObs, RED, 0.6), line(5, trBlueUV, BLUE, 0.8), line(5, trBlueMid, DARKBLUE, 0.6), line(5, trBlueOpt, DARKBLUE, 0.6), line(5, trModel, RED, 0.9, 1, 3), boxes(5, trBoxes, 13),
    // UV right
    baseline(6), line(6, uvRObs, BLUE, 0.8, 0.85), line(6, uvRModel, RED, 0.8, 0.75, 3), line(6, uvRSubNV, SUB, 0.6), line(6, uvRSubHe, SUB, 0.6), ...labels(6, uvRLab),
    // optical right
    baseline(7), line(7, optRObs, BLUE, 0.8, 0.85), line(7, optRModel, RED, 0.8, 0.65, 3), line(7, optRSub, SUB, 0.6), ...labels(7, optRLab),
    // H alpha right
    baseline(8), line(8, haRObs, BLUE, 0.7, 0.85), line(8, haRModel, RED, 0.8, 0.65, 3), line(8, haRSub, SUB, 0.6), ...labels(8, haRLab),
    // near-UV right
    baseline(9), line(9, nuvRObs, BLUE, 0.7, 0.85), line(9, nuvRModel, RED, 0.8, 0.7, 3), ...labels(9, nuvRLab),
  ];

  const rich = (size: number, lh: number) => ({
    a: { fontSize: size, fontFamily: FONT, fill: INK, lineHeight: lh },
    s: { fontSize: size * 0.65, fontFamily: FONT, fill: INK, verticalAlign: "bottom", lineHeight: lh },
  });
  const txt = (x: number, y: number, text: string, size: number, lh: number, align = "left", useRich = false) => ({
    type: "text", x, y, silent: true, z: 10,
    style: Object.assign({ text, fontSize: size, fontFamily: FONT, fill: "#111", align, verticalAlign: "top", lineHeight: lh }, useRich ? { rich: rich(size, lh) } : {}),
  });

  const graphic = [
    txt(22, 1.8, "Bat99 025", 13.5, 10), txt(275, 1.8, "WN4ha", 13.5, 10, "right"),
    txt(22, 15.9, "{a|T}{s|*}{a| =  87 kK   log R}{s|t}{a| = 1.30}", 5.5, 4.6, "left", true),
    txt(268, 27, "{a|log L}{s|*}{a| = 5.55}", 10, 10, "right", true),
    txt(222, 42, "{a|M}{s|v}{a| =-4.01 mag}", 5, 5, "left", true),
    txt(222, 49, "{a|E}{s|b-v}{a| = 0.15 mag}", 5, 5, "left", true),
    txt(346, 1.8, "Bat99 026", 13.5, 10), txt(597, 1.8, "WN4b", 13.5, 10, "right"),
    txt(346, 15.9, "{a|T}{s|*}{a| =  71 kK   log R}{s|t}{a| = 0.70}", 5.5, 4.6, "left", true),
    txt(593, 27, "{a|log L}{s|*}{a| = 5.62}", 10, 10, "right", true),
    txt(544, 40.5, "{a|M}{s|v}{a| =-4.38 mag}", 5, 5, "left", true),
    txt(544, 47.5, "{a|E}{s|b-v}{a| = 0.14 mag}", 5, 5, "left", true),
  ];

  return { animation: false, backgroundColor: "#fff", textStyle: { fontFamily: FONT }, grid, xAxis, yAxis, series, graphic };
}

export default function App() {
  const ref = useRef<HTMLDivElement>(null);
  useEffect(() => {
    if (!ref.current) return;
    const chart = echarts.init(ref.current, null, { renderer: "svg" });
    chart.setOption(buildOption() as any);
    return () => chart.dispose();
  }, []);
  return <div ref={ref} style={{ position: "fixed", left: 0, top: 0, width: 600, height: 394, background: "#fff" }} />;
}
